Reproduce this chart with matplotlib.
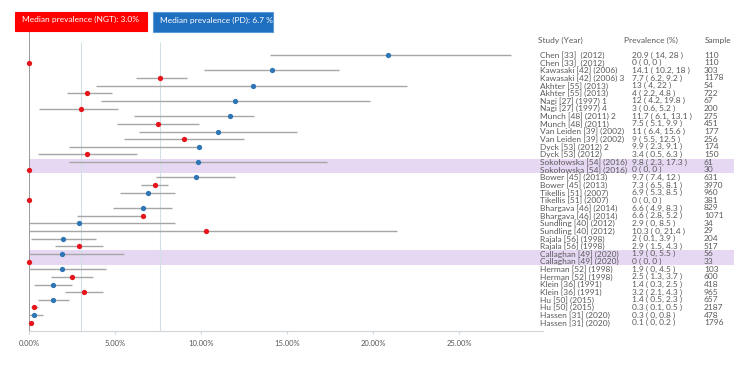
import matplotlib
matplotlib.use("Agg")
import matplotlib.pyplot as plt
import matplotlib.transforms as mtransforms
from matplotlib.patches import Rectangle

plt.rcParams["font.family"] = ["Lato", "DejaVu Sans"]

# --- data ------------------------------------------------------------------
studies = [
    "Chen [33]  (2012)", "Chen [33]  (2012)",
    "Kawasaki [42] (2006)", "Kawasaki [42] (2006) 3",
    "Akhter [55] (2013)", "Akhter [55] (2013)",
    "Nagi [27] (1997) 1", "Nagi [27] (1997) 4",
    "Munch [48] (2011) 2", "Munch [48] (2011)",
    "Van Leiden [39] (2002)", "Van Leiden [39] (2002)",
    "Dyck [53] (2012) 2", "Dyck [53] (2012)",
    "Sokołowska [54] (2016)", "Sokołowska [54] (2016)",
    "Bower [45] (2013)", "Bower [45] (2013)",
    "Tikellis [51] (2007)", "Tikellis [51] (2007)",
    "Bhargava [46] (2014)", "Bhargava [46] (2014)",
    "Sundling [40] (2012)", "Sundling [40] (2012)",
    "Rajala [56] (1998)", "Rajala [56] (1998)",
    "Callaghan [49] (2020)", "Callaghan [49] (2020)",
    "Herman [52] (1998)", "Herman [52] (1998)",
    "Klein [36] (1991)", "Klein [36] (1991)",
    "Hu [50] (2015)", "Hu [50] (2015)",
    "Hassen [31] (2020)", "Hassen [31] (2020)",
]
# PD rows and NGT rows alternate
groups = ["PD", "NGT"] * 18
estimate = [20.9, 0, 14.1, 7.6, 13, 3.4, 12, 3, 11.7, 7.5, 11, 9,
            9.9, 3.4, 9.8, 0, 9.7, 7.3, 6.9, 0, 6.6, 6.6, 2.9, 10.3,
            2, 2.9, 1.9, 0, 1.9, 2.5, 1.4, 3.2, 1.4, 0.3, 0.3, 0.1]
lower = [14, 0, 10.2, 6.2, 3.9, 2.2, 4.2, 0.6, 6.1, 5.1, 6.4, 5.5,
         2.3, 0.5, 2.3, 0, 7.4, 6.5, 5.3, 0, 4.9, 2.8, 0, 0,
         0.1, 1.5, 0, 0, 0, 1.3, 0.3, 2.1, 0.5, 0.1, 0, 0]
upper = [28, 0, 18, 9.2, 22, 4.8, 19.8, 5.2, 13.1, 9.9, 15.6, 12.5,
         9.9, 6.3, 17.3, 0, 12, 8.1, 8.5, 0, 8.3, 6.6, 8.5, 21.4,
         3.9, 4.3, 5.5, 0, 4.5, 3.7, 2.5, 4.3, 2.3, 0.5, 0.8, 0.2]
prev_labels = [
    "20.9 ( 14, 28 )", "0 ( 0, 0 )", "14.1 ( 10.2, 18 )", "7.7 ( 6.2, 9.2 )",
    "13 ( 4, 22 )", "4 ( 2.2, 4.8 )", "12 ( 4.2, 19.8 )", "3 ( 0.6, 5.2 )",
    "11.7 ( 6.1, 13.1 )", "7.5 ( 5.1, 9.9 )", "11 ( 6.4, 15.6 )", "9 ( 5.5, 12.5 )",
    "9.9 ( 2.3, 9.1 )", "3.4 ( 0.5, 6.3 )", "9.8 ( 2.3, 17.3 )", "0 ( 0, 0 )",
    "9.7 ( 7.4, 12 )", "7.3 ( 6.5, 8.1 )", "6.9 ( 5.3, 8.5 )", "0 ( 0, 0 )",
    "6.6 ( 4.9, 8.3 )", "6.6 ( 2.8, 5.2 )", "2.9 ( 0, 8.5 )", "10.3 ( 0, 21.4 )",
    "2 ( 0.1, 3.9 )", "2.9 ( 1.5, 4.3 )", "1.9 ( 0, 5.5 )", "0 ( 0, 0 )",
    "1.9 ( 0, 4.5 )", "2.5 ( 1.3, 3.7 )", "1.4 ( 0.3, 2.5 )", "3.2 ( 2.1, 4.3 )",
    "1.4 ( 0.5, 2.3 )", "0.3 ( 0.1, 0.5 )", "0.3 ( 0, 0.8 )", "0.1 ( 0, 0.2 )",
]
samples = [110, 110, 303, 1178, 54, 722, 67, 200, 275, 451, 177, 256,
           174, 150, 61, 30, 631, 3970, 960, 381, 829, 1071, 34, 29,
           204, 517, 56, 33, 103, 600, 418, 965, 657, 2187, 478, 1796]
highlighted = ["Sokołowska [54] (2016)", "Callaghan [49] (2020)"]

median_ngt = 3.0
median_pd_line = 7.6      # where the PD median line is actually drawn
box_labels = ["Median prevalence (NGT): 3.0%", "Median prevalence (PD): 6.7 %"]
xticks = [0, 5, 10, 15, 20, 25]

RED = "#e8141b"
BLUE = "#2e75b6"
GREY_TXT = "#595959"
FS = 6

W, H = 750, 365
fig = plt.figure(figsize=(W / 100, H / 100), dpi=100)


def fx(px):
    return px / W


def fy(py):
    return 1 - py / H


# axes: 0% at x=29px, 17.2 px per percent; rows start at y=55px, 7.65px apart
ax_l, ax_r, ax_t, ax_b = 29, 543, 32, 330.7
ax = fig.add_axes([fx(ax_l), fy(ax_b), (ax_r - ax_l) / W, (ax_b - ax_t) / H])
ax.set_xlim(0, (ax_r - ax_l) / 17.2)
row0, dy = 55, 7.65
ax.set_ylim((ax_b - row0) / dy, (ax_t - row0) / dy)
rows = list(range(len(studies)))

for s in ["top", "left", "right"]:
    ax.spines[s].set_visible(False)
ax.spines["bottom"].set_color("#d0d7dc")
ax.set_yticks([])
ax.set_xticks(xticks)
ax.set_xticklabels([f"{t:.2f}%" for t in xticks], fontsize=5.5, color=GREY_TXT)
ax.tick_params(axis="x", length=2.5, color="#d0d7dc", pad=4)

# highlight bands (stretch across the table too)
band_right = (734 - ax_l) / (ax_r - ax_l)
for name in highlighted:
    idx = [i for i, s in enumerate(studies) if s == name]
    ax.axhspan(min(idx) - 0.45, max(idx) + 0.45, xmin=0, xmax=band_right,
               color="#e6d8f3", lw=0, zorder=0, clip_on=False)

# reference lines
ax.axvline(0, color="#808080", lw=1.1, zorder=2)
ax.vlines([median_ngt, median_pd_line], (41.7 - row0) / dy, ax.get_ylim()[0],
          color="#d2dfe4", lw=0.8, zorder=1)

# CIs and point estimates
ax.hlines(rows, lower, upper, color="#a6a6a6", lw=1.0, zorder=3)
for g, c in [("PD", BLUE), ("NGT", RED)]:
    ys = [r for r in rows if groups[r] == g]
    xs = [estimate[r] for r in rows if groups[r] == g]
    ax.plot(xs, ys, "o", color=c, ms=3.8, mew=0, zorder=4, clip_on=False)

# side table
tr = mtransforms.blended_transform_factory(fig.transFigure, ax.transData)
hdr_y = (40 - row0) / dy
for x, t in [(538, "Study (Year)"), (624, "Prevalence (%)"), (705, "Sample")]:
    ax.text(fx(x), hdr_y, t, transform=tr, fontsize=FS, color=GREY_TXT,
            va="center", ha="left", clip_on=False)
for r in rows:
    ax.text(fx(540), r, studies[r], transform=tr, fontsize=FS, color=GREY_TXT,
            va="center", ha="left", clip_on=False)
    ax.text(fx(632), r, prev_labels[r], transform=tr, fontsize=FS, color=GREY_TXT,
            va="center", ha="left", clip_on=False)
    ax.text(fx(704), r, str(samples[r]), transform=tr, fontsize=FS, color=GREY_TXT,
            va="center", ha="left", clip_on=False)

# median boxes on top
for (x0, y0, x1, y1), fc, ec, lab in [
        ((15, 11.7, 146.7, 31), "#ff0000", "#ff0000", box_labels[0]),
        ((153.3, 12.3, 272.7, 31.7), "#1f6fc0", "#5b9bd5", box_labels[1])]:
    fig.patches.append(Rectangle((fx(x0), fy(y1)), (x1 - x0) / W, (y1 - y0) / H,
                                 transform=fig.transFigure, facecolor=fc,
                                 edgecolor=ec, lw=0.8))
    fig.text(fx(x0 + 7), fy(y0 + 7.8), lab, fontsize=FS, color="white",
             va="center", ha="left")

fig.savefig("out.png", dpi=100)
